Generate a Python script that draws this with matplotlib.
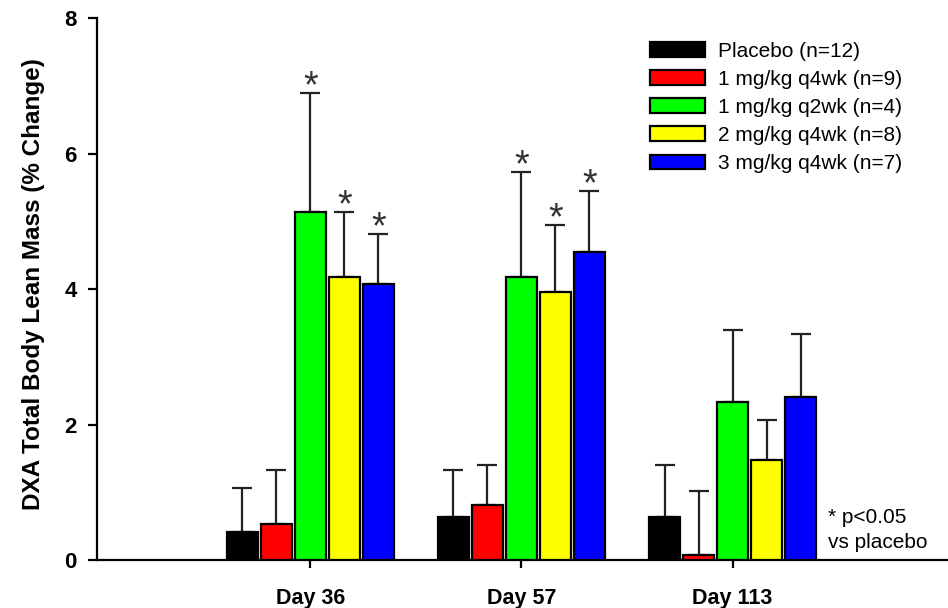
import matplotlib
matplotlib.use("Agg")
import matplotlib.pyplot as plt
import numpy as np

plt.rcParams['font.family'] = ['Liberation Sans', 'DejaVu Sans']

days = ["Day 36", "Day 57", "Day 113"]
groups = ["Placebo (n=12)", "1 mg/kg q4wk (n=9)", "1 mg/kg q2wk (n=4)",
          "2 mg/kg q4wk (n=8)", "3 mg/kg q4wk (n=7)"]
colors = ["#000000", "#ff0000", "#00ff00", "#ffff00", "#0000ff"]
# mean values per group (rows) for each day (columns)
means = [
    [0.42, 0.64, 0.64],
    [0.53, 0.81, 0.07],
    [5.14, 4.18, 2.33],
    [4.18, 3.95, 1.48],
    [4.07, 4.55, 2.40],
]
# upper error (SE) per group for each day
errs = [
    [0.65, 0.69, 0.76],
    [0.80, 0.59, 0.95],
    [1.75, 1.55, 1.07],
    [0.96, 1.00, 0.59],
    [0.74, 0.89, 0.93],
]
signif = [
    [False, False, False],
    [False, False, False],
    [True, True, False],
    [True, True, False],
    [True, True, False],
]

fig = plt.figure(figsize=(9.48, 6.08), dpi=100)
ax = fig.add_axes([0.1023, 0.0789, 0.8977, 0.8914])

x = np.arange(1, len(days) + 1)
step = 0.161
width = 0.147
for i, (g, c) in enumerate(zip(groups, colors)):
    xs = x + (i - 2) * step
    ax.bar(xs, means[i], width=width, color=c, edgecolor='black',
           linewidth=1.6, label=g, zorder=3)
    ax.errorbar(xs, means[i], yerr=[np.zeros(len(days)), errs[i]], fmt='none',
                ecolor='#222222', elinewidth=1.6, capsize=7, capthick=1.6, zorder=2)
    for j in range(len(days)):
        if signif[i][j]:
            ax.annotate('*', (xs[j], means[i][j] + errs[i][j]), xytext=(0, -3),
                        textcoords='offset points', ha='center', va='baseline',
                        fontsize=27, color='#333333')

ax.set_xlim(-0.01, 4.02)
ax.set_ylim(0, 8)
ax.set_yticks([0, 2, 4, 6, 8])
ax.set_xticks(x)
ax.set_xticklabels(days, fontsize=15.5, fontweight='bold')
ax.tick_params(axis='x', length=6, width=1.6, pad=14)
ax.tick_params(axis='y', length=6.5, width=1.6, pad=8, labelsize=16)
for lab in ax.get_yticklabels():
    lab.set_fontweight('bold')
ax.spines['top'].set_visible(False)
ax.spines['right'].set_visible(False)
ax.spines['left'].set_linewidth(1.6)
ax.spines['bottom'].set_linewidth(1.6)
ax.set_ylabel("DXA Total Body Lean Mass (% Change)", fontsize=17.5, fontweight='bold')
ax.yaxis.set_label_coords(-0.075, 0.51)
ax.yaxis.label.set_va('center')

leg = ax.legend(loc='upper left', bbox_to_anchor=(0.6857, 0.9316),
                bbox_transform=fig.transFigure, frameon=False,
                fontsize=15, handlelength=2.64, handleheight=0.72, labelspacing=0.44,
                handletextpad=0.63, borderpad=0, borderaxespad=0)

ax.text(828 / 948, 1 - 530 / 608, "* p<0.05\nvs placebo", transform=fig.transFigure,
        fontsize=15, ha='left', va='center', linespacing=1.45)

fig.savefig("out.png", dpi=100)
